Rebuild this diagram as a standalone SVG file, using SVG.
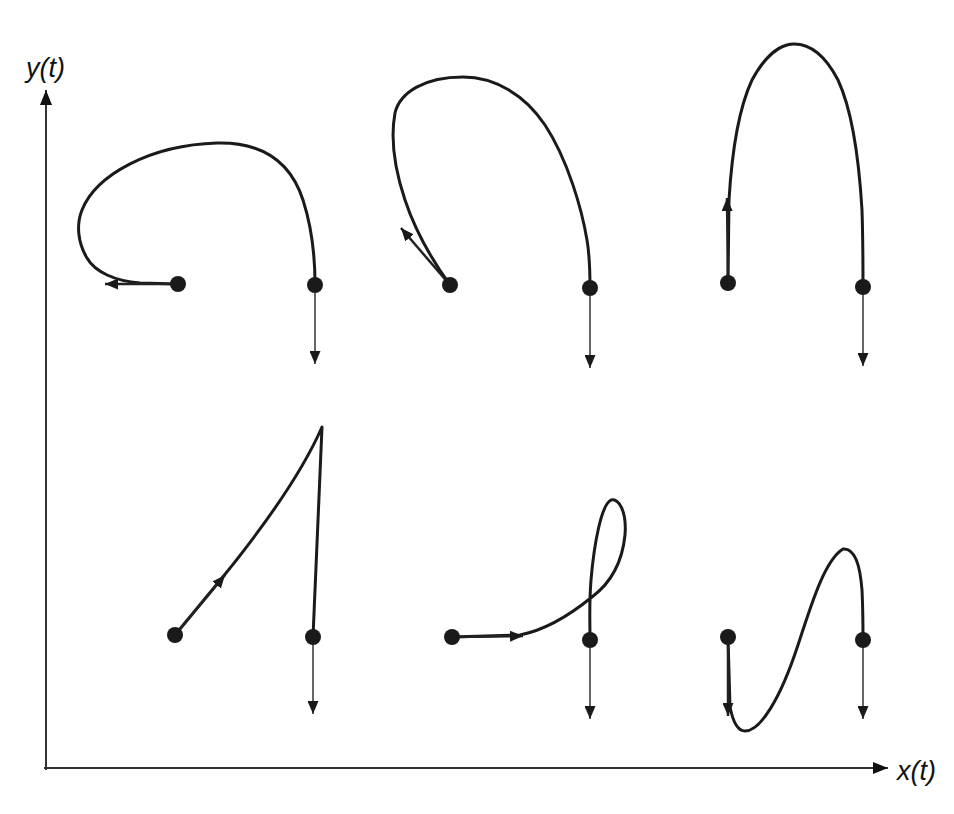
<svg xmlns="http://www.w3.org/2000/svg" width="954" height="814" viewBox="0 0 954 814">
<style>
.curve{fill:none;stroke:#1a1a1a;stroke-width:3;stroke-linecap:round;stroke-linejoin:round}
.down{fill:none;stroke:#333;stroke-width:1.5;marker-end:url(#ah)}
.tan{fill:none;stroke:#222;stroke-width:2.5;marker-end:url(#ah)}
.axis{fill:none;stroke:#333;stroke-width:2;marker-end:url(#ax)}
.dot{fill:#1a1a1a}
.lbl{font-family:"Liberation Sans",Arial,sans-serif;font-style:italic;font-size:27px;fill:#111}
</style>
<defs>
<marker id="ah" markerUnits="userSpaceOnUse" markerWidth="14" markerHeight="11" refX="13" refY="5.5" orient="auto">
<path d="M0,0 L13,5.5 L0,11 z" fill="#1a1a1a"/>
</marker>
<marker id="ax" markerUnits="userSpaceOnUse" markerWidth="16" markerHeight="12" refX="15" refY="6" orient="auto">
<path d="M0,0 L15,6 L0,12 z" fill="#111"/>
</marker>
</defs>
<rect width="954" height="814" fill="#fff"/>
<g id="axes">
<line class="axis" x1="46" y1="770" x2="46" y2="90"/>
<line class="axis" x1="44" y1="768" x2="888" y2="768"/>
<text class="lbl" x="26" y="77">y(t)</text>
<text class="lbl" x="897" y="780">x(t)</text>
</g>
<g id="connectors">
<path class="curve" d="M178,284 L140,283 C115,281 95,272 87,258 C78,243 76,225 82,210 C96,175 150,145 217,143 C260,142 290,160 303,200 C312,228 315,255 315,284"/>
<path class="curve" d="M450,285 C432,260 415,230 405,200 C395,170 390,140 395,113 C400,92 425,77 463,77 C495,77 525,95 545,125 C568,160 582,210 587,240 C590,258 590,270 590,288"/>
<path class="curve" d="M728,283 L729,200 C732,150 738,110 752,80 C765,56 780,44 794,44 C810,44 825,55 838,80 C852,110 859,160 862,210 C863,240 863,265 863,287"/>
<path class="curve" d="M175,635 L222,578 C248,546 298,482 322,427 L313,637"/>
<path class="curve" d="M452,637 L520,635 C545,630 570,615 592,597 C608,585 622,565 625,535 C627,510 618,498 611,500 C601,505 594,545 591,580 C589,605 590,620 590,640"/>
<path class="curve" d="M728,637 L730,707 C733,722 738,731 745,731 C760,731 780,700 798,645 C812,602 825,560 843,549 C855,548 860,565 862,590 C863,610 863,625 863,640"/>
<line class="down" x1="315" y1="285" x2="315" y2="364"/>
<line class="down" x1="590" y1="288" x2="590" y2="368"/>
<line class="down" x1="863" y1="287" x2="863" y2="366"/>
<line class="down" x1="313" y1="637" x2="313" y2="714"/>
<line class="down" x1="590" y1="640" x2="590" y2="719"/>
<line class="down" x1="863" y1="640" x2="863" y2="719"/>
<line class="tan" x1="178" y1="284" x2="105" y2="284"/>
<line class="tan" x1="450" y1="285" x2="401" y2="228"/>
<line class="tan" x1="728" y1="283" x2="727" y2="198"/>
<line class="tan" x1="175" y1="635" x2="225" y2="575"/>
<line class="tan" x1="452" y1="637" x2="523" y2="636"/>
<line class="tan" x1="728" y1="637" x2="728" y2="716"/>
</g>
<g id="p1-start"><circle class="dot" cx="178" cy="284" r="8"/></g>
<g id="p1-end"><circle class="dot" cx="315" cy="285" r="8"/></g>
<g id="p2-start"><circle class="dot" cx="450" cy="285" r="8"/></g>
<g id="p2-end"><circle class="dot" cx="590" cy="288" r="8"/></g>
<g id="p3-start"><circle class="dot" cx="728" cy="283" r="8"/></g>
<g id="p3-end"><circle class="dot" cx="863" cy="287" r="8"/></g>
<g id="p4-start"><circle class="dot" cx="175" cy="635" r="8"/></g>
<g id="p4-end"><circle class="dot" cx="313" cy="637" r="8"/></g>
<g id="p5-start"><circle class="dot" cx="452" cy="637" r="8"/></g>
<g id="p5-end"><circle class="dot" cx="590" cy="640" r="8"/></g>
<g id="p6-start"><circle class="dot" cx="728" cy="637" r="8"/></g>
<g id="p6-end"><circle class="dot" cx="863" cy="640" r="8"/></g>
</svg>
